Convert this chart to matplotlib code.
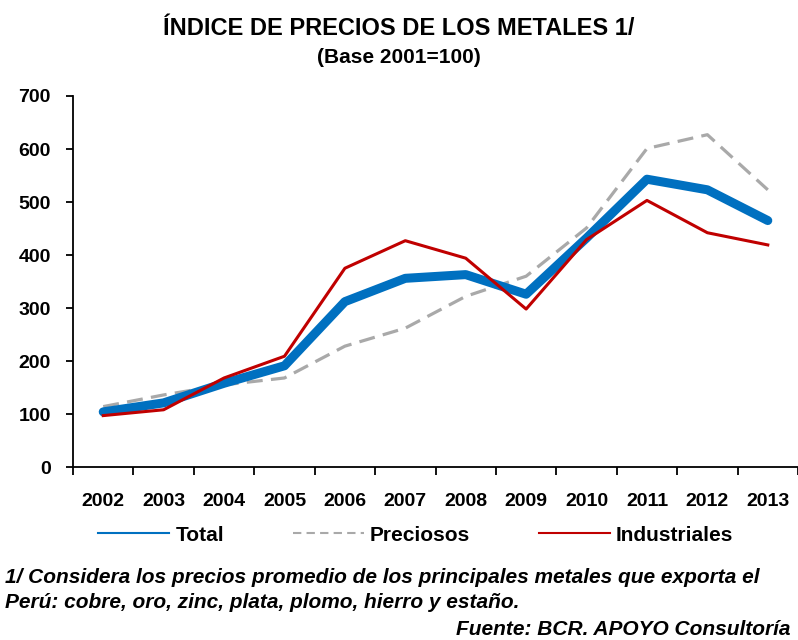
import numpy as np
import matplotlib
matplotlib.use("Agg")
import matplotlib.pyplot as plt
from matplotlib.lines import Line2D

plt.rcParams['font.family'] = ['Liberation Sans', 'DejaVu Sans']
plt.rcParams['font.weight'] = 'bold'

years = ["2002", "2003", "2004", "2005", "2006", "2007", "2008", "2009", "2010", "2011", "2012", "2013"]
total = [104, 121, 158, 191, 312, 356, 363, 326, 432, 543, 523, 465]
preciosos = [114, 136, 155, 168, 228, 262, 322, 360, 451, 601, 627, 523]
industriales = [97, 108, 168, 209, 375, 427, 394, 298, 429, 503, 442, 419]

x = np.arange(len(years))

fig = plt.figure(figsize=(7.98, 6.4), dpi=100)
ax = fig.add_axes([0.0915, 0.2703, 0.9085, 0.5797])

ax.plot(x, preciosos, c='#A9A9A9', lw=2.3, dashes=(5, 2.6), label="Preciosos")
ax.plot(x, total, c='#0070C0', lw=6.5, solid_capstyle='round', label="Total")
ax.plot(x, industriales, c='#C00000', lw=2.2, label="Industriales")

ax.set_xlim(-0.5, len(years) - 0.5)
ax.set_ylim(0, 700)
ax.set_yticks(range(0, 701, 100))
ax.set_xticks(x)
ax.set_xticklabels(years)
ax.set_xticks(np.arange(-0.5, len(years), 1.0), minor=True)

for s in ['top', 'right']:
    ax.spines[s].set_visible(False)
for s in ['left', 'bottom']:
    ax.spines[s].set_linewidth(1.3)

ax.tick_params(axis='y', direction='out', length=5, width=1.3, pad=11, labelsize=14)
ax.tick_params(axis='x', which='major', length=0, pad=19, labelsize=14)
ax.tick_params(axis='x', which='minor', direction='out', length=6, width=1.3)
for lbl in ax.get_xticklabels() + ax.get_yticklabels():
    lbl.set_fontweight('bold')

fig.text(0.5, 0.956, "ÍNDICE DE PRECIOS DE LOS METALES 1/", ha='center', va='center',
         fontsize=17, fontweight='bold')
fig.text(0.5, 0.910, "(Base 2001=100)", ha='center', va='center', fontsize=15, fontweight='bold')

handles = [Line2D([], [], c='#0070C0', lw=1.5),
           Line2D([], [], c='#A9A9A9', lw=1.5, dashes=(4, 2.5)),
           Line2D([], [], c='#C00000', lw=1.5)]
fig.legend(handles, ["Total", "Preciosos", "Industriales"], loc='center',
           bbox_to_anchor=(0.521, 0.164), ncol=3, frameon=False,
           handlelength=3.4, columnspacing=3.3, handletextpad=0.3,
           prop={'weight': 'bold', 'size': 15})

fig.text(0.006, 0.097, "1/ Considera los precios promedio de los principales metales que exporta el",
         ha='left', va='center', fontsize=15, fontweight='bold', style='italic')
fig.text(0.006, 0.058, "Perú: cobre, oro, zinc, plata, plomo, hierro y estaño.",
         ha='left', va='center', fontsize=15, fontweight='bold', style='italic')
fig.text(0.99, 0.016, "Fuente: BCR. APOYO Consultoría", ha='right', va='center',
         fontsize=15, fontweight='bold', style='italic')

fig.savefig("out.png", dpi=100)
